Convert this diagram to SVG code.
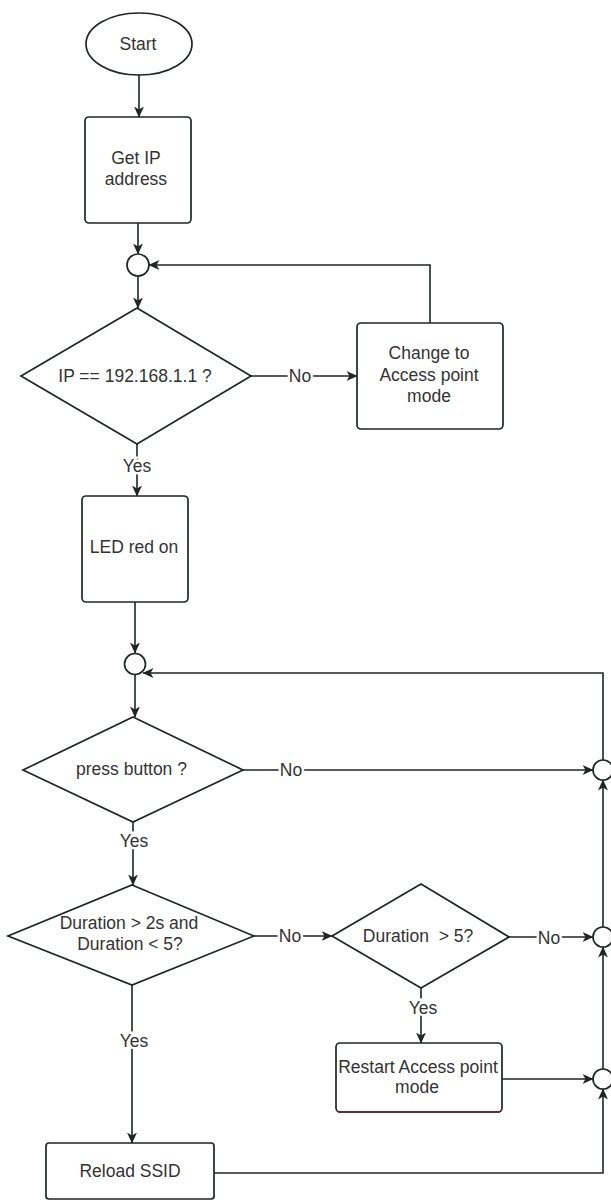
<svg xmlns="http://www.w3.org/2000/svg" width="611" height="1200" viewBox="0 0 611 1200">
<defs>
<marker id="arr" markerUnits="userSpaceOnUse" markerWidth="11" markerHeight="10" refX="10.5" refY="5" orient="auto" viewBox="0 0 11 10">
<path d="M0,0 L11,5 L0,10 L3,5 z" fill="#1f2623"/>
</marker>
<style>
.shape{fill:#fff;stroke:#1f2623;stroke-width:1.7}
.line{fill:none;stroke:#1f2623;stroke-width:1.6}
.t{font-family:"Liberation Sans",Arial,sans-serif;font-size:17.5px;fill:#333;text-anchor:middle;white-space:pre}
.lbl{font-family:"Liberation Sans",Arial,sans-serif;font-size:17.5px;fill:#333;text-anchor:middle;stroke:#fff;stroke-width:5;paint-order:stroke}
</style>
</defs>
<rect width="611" height="1200" fill="#fff"/>

<g id="connectors">
<path class="line" d="M139,75 L139,117" marker-end="url(#arr)"/>
<path class="line" d="M138,223 L138,254" marker-end="url(#arr)"/>
<path class="line" d="M138,276 L138,308" marker-end="url(#arr)"/>
<path class="line" d="M251,376 L357,376" marker-end="url(#arr)"/>
<text class="lbl" x="300" y="382">No</text>
<path class="line" d="M430,323 L430,265 L149,265" marker-end="url(#arr)"/>
<path class="line" d="M137,444 L137,496" marker-end="url(#arr)"/>
<text class="lbl" x="137" y="472">Yes</text>
<path class="line" d="M135,602 L135,653" marker-end="url(#arr)"/>
<path class="line" d="M135,675 L135,717" marker-end="url(#arr)"/>
<path class="line" d="M603,760 L603,673 L143,673" marker-end="url(#arr)"/>
<path class="line" d="M243,770 L593,770" marker-end="url(#arr)"/>
<text class="lbl" x="291" y="776">No</text>
<path class="line" d="M133,822 L133,885" marker-end="url(#arr)"/>
<text class="lbl" x="134" y="847">Yes</text>
<path class="line" d="M254,936 L332,936" marker-end="url(#arr)"/>
<text class="lbl" x="290" y="942">No</text>
<path class="line" d="M509,937 L593,937" marker-end="url(#arr)"/>
<text class="lbl" x="549" y="944">No</text>
<path class="line" d="M421,988 L421,1043" marker-end="url(#arr)"/>
<text class="lbl" x="423" y="1014">Yes</text>
<path class="line" d="M502,1079 L593,1079" marker-end="url(#arr)"/>
<path class="line" d="M603,1069 L603,947" marker-end="url(#arr)"/>
<path class="line" d="M603,927 L603,780" marker-end="url(#arr)"/>
<path class="line" d="M132,985 L132,1143" marker-end="url(#arr)"/>
<text class="lbl" x="134" y="1047">Yes</text>
<path class="line" d="M214,1173 L603,1173 L603,1089" marker-end="url(#arr)"/>
</g>

<g id="start">
<ellipse class="shape" cx="139" cy="44" rx="53" ry="31"/>
<text class="t" x="138" y="50">Start</text>
</g>
<g id="get-ip">
<rect class="shape" x="85" y="117" width="106" height="106" rx="4"/>
<text class="t" x="136" y="164">Get IP</text>
<text class="t" x="136" y="185">address</text>
</g>
<g id="junction1">
<circle class="shape" cx="138" cy="265" r="11"/>
</g>
<g id="ip-check">
<polygon class="shape" points="137,308 251,376 137,444 21,376"/>
<text class="t" x="135" y="382">IP == 192.168.1.1 ?</text>
</g>
<g id="change-ap">
<rect class="shape" x="357" y="323" width="146" height="106" rx="4"/>
<text class="t" x="429" y="359">Change to</text>
<text class="t" x="429" y="381">Access point</text>
<text class="t" x="429" y="402">mode</text>
</g>
<g id="led-red">
<rect class="shape" x="82" y="496" width="106" height="106" rx="4"/>
<text class="t" x="134" y="553">LED red on</text>
</g>
<g id="junction2">
<circle class="shape" cx="135" cy="664" r="10.5"/>
</g>
<g id="press-button">
<polygon class="shape" points="133,717 243,770 133,822 23,770"/>
<text class="t" x="131.5" y="775">press button ?</text>
</g>
<g id="duration-2-5">
<polygon class="shape" points="132,885 254,936 132,985 8,936"/>
<text class="t" x="129" y="929">Duration &gt; 2s and</text>
<text class="t" x="130" y="950">Duration &lt; 5?</text>
</g>
<g id="duration-5">
<polygon class="shape" points="421,884 509,937 421,988 332,936"/>
<text class="t" x="418" y="942">Duration  &gt; 5?</text>
</g>
<g id="restart-ap">
<rect class="shape" x="336" y="1043" width="166" height="69" rx="4"/>
<path d="M338,1112 L500,1112" fill="none" stroke="#6e1a2c" stroke-width="1.7"/>
<text class="t" x="418" y="1073">Restart Access point</text>
<text class="t" x="417" y="1093">mode</text>
</g>
<g id="reload-ssid">
<rect class="shape" x="46" y="1143" width="168" height="56" rx="3"/>
<text class="t" x="130" y="1177">Reload SSID</text>
</g>
<g id="junction-r1">
<circle class="shape" cx="603" cy="770" r="10"/>
</g>
<g id="junction-r2">
<circle class="shape" cx="603" cy="937" r="10"/>
</g>
<g id="junction-r3">
<circle class="shape" cx="603" cy="1079" r="10"/>
</g>
</svg>
